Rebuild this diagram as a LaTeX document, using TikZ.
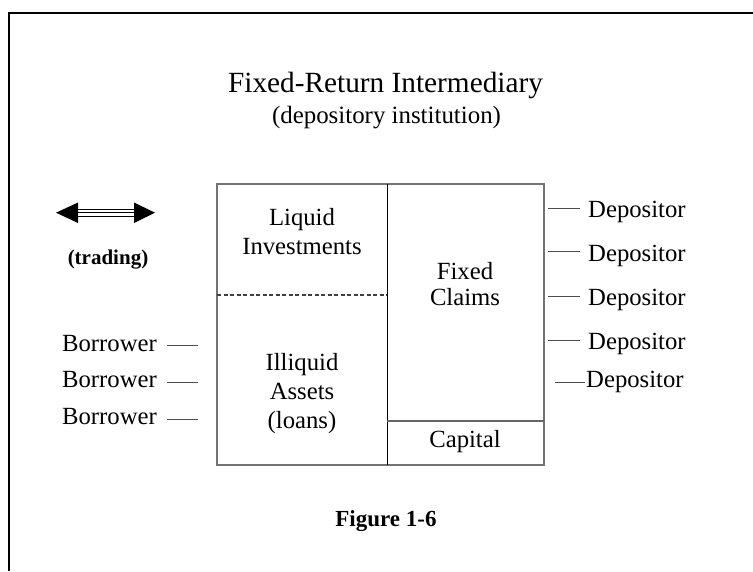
\documentclass[tikz,border=0pt]{standalone}
\usepackage{fontspec}
\setmainfont{Liberation Serif}
\begin{document}
\begin{tikzpicture}[x=1pt,y=-1pt,
  body/.style={font=\fontsize{24.7}{27}\selectfont, inner sep=0pt, anchor=base},
  boxline/.style={draw=black!55, line width=2pt},
  tie/.style={draw=black!70, line width=1pt}]
\useasboundingbox (0,0) rectangle (753,571);
% outer frame (right and bottom edges lie outside the picture)
\draw[line width=2.2pt] (9,571) -- (9,13) -- (753,13);

% titles
\node[body, font=\fontsize{29.3}{32}\selectfont] (title) at (385.5,92) {Fixed-Return Intermediary};
\node[body, font=\fontsize{24.9}{27}\selectfont] (sub) at (386.5,123) {(depository institution)};

% balance sheet box
\coordinate (tl) at (217,184);
\coordinate (br) at (544,465);
\coordinate (midtop) at (387,184);
\coordinate (midbot) at (387,465);
\coordinate (dashL) at (217,295);
\coordinate (dashR) at (387,295);
\coordinate (capL) at (387,421);
\coordinate (capR) at (544,421);
\draw[boxline] (tl) rectangle (br);
\draw[line width=1pt] (midtop) -- (midbot);
\draw[black!75, line width=1.2pt, dash pattern=on 4pt off 2.5pt] (dashL) -- (dashR);
\draw[black!60, line width=1.5pt] (capL) -- (capR);

\node[body] (liq1) at (302,225) {Liquid};
\node[body] (liq2) at (302,254) {Investments};
\node[body] (fix1) at (465,279) {Fixed};
\node[body] (fix2) at (465,305) {Claims};
\node[body] (ill1) at (302,370) {Illiquid};
\node[body] (ill2) at (302,399) {Assets};
\node[body] (ill3) at (302,428) {(loans)};
\node[body] (cap) at (465,447) {Capital};

% trading arrow
\coordinate (arL) at (56,212.7);
\coordinate (arR) at (155,212.7);
\fill (arL) -- (78,202.5) -- (78,223) -- cycle;
\fill (arR) -- (134,202.5) -- (134,223) -- cycle;
\draw[line width=1pt] (78,209) -- (134,209);
\draw[line width=1pt] (78,212.7) -- (134,212.7);
\draw[line width=1pt] (78,216.4) -- (134,216.4);
\node[body, font=\bfseries\fontsize{21}{24}\selectfont] (trading) at (108,264) {(trading)};

% borrowers
\foreach \i/\y/\ly in {1/351/345, 2/387/382, 3/424/419}{
  \node[body, anchor=base east] (bor\i) at (157,\y) {Borrower};
  \coordinate (bs\i) at (167,\ly);
  \coordinate (be\i) at (198,\ly);
  \draw[tie] (bs\i) -- (be\i);
}

% depositors
\foreach \i/\y/\ly in {1/217/208, 2/261/251, 3/305/296, 4/349/340}{
  \node[body, anchor=base west] (dep\i) at (588,\y) {Depositor};
  \coordinate (ds\i) at (548,\ly);
  \coordinate (de\i) at (580,\ly);
  \draw[tie] (ds\i) -- (de\i);
}
\node[body, anchor=base west] (dep5) at (586,387) {Depositor};
\coordinate (ds5) at (555,382);
\coordinate (de5) at (585,382);
\draw[tie] (ds5) -- (de5);

% caption
\node[body, font=\bfseries\fontsize{23}{26}\selectfont] (fig) at (386,526) {Figure 1-6};
\end{tikzpicture}
\end{document}
